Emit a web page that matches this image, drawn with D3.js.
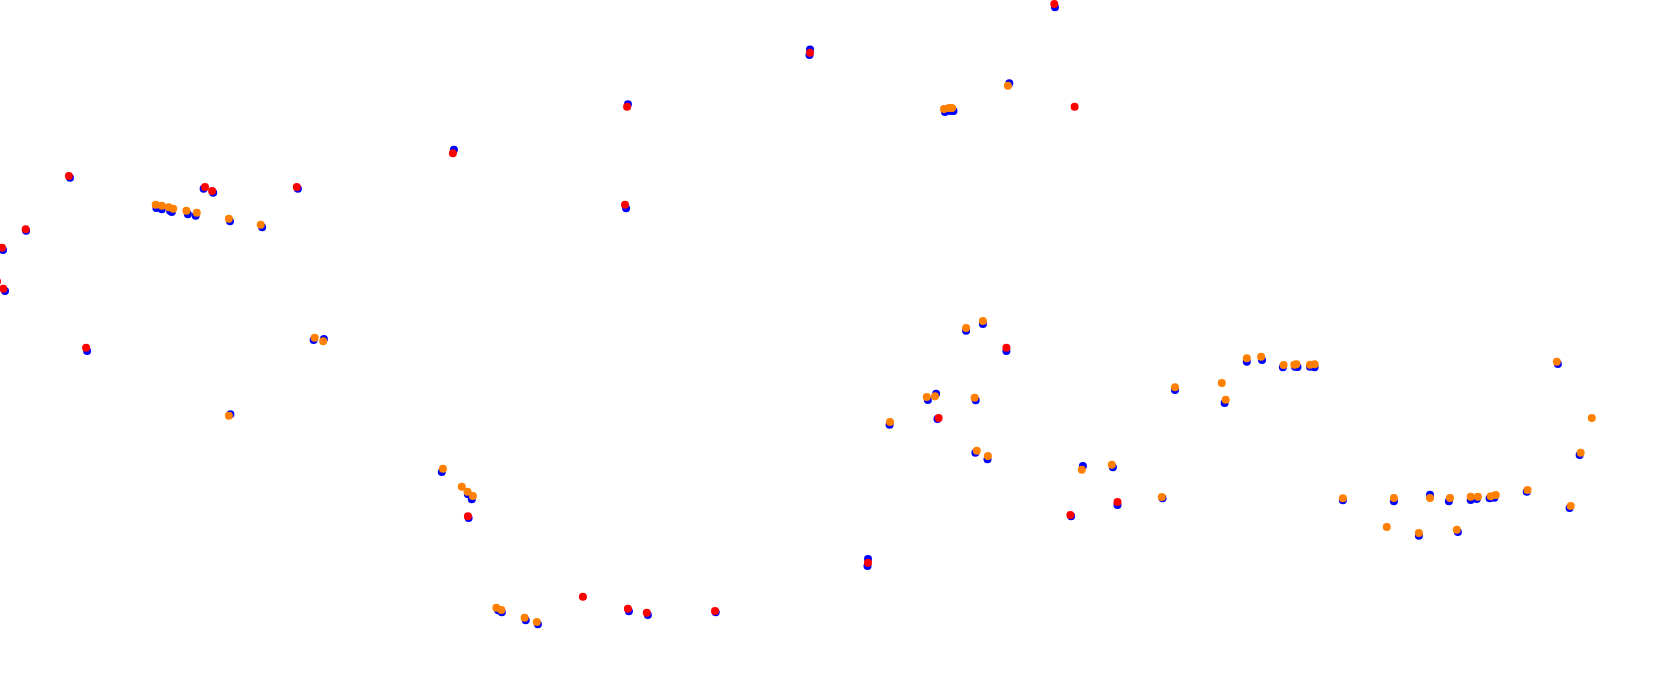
<!DOCTYPE html>
<html>
<head>
<meta charset="utf-8">
<script src="https://cdn.jsdelivr.net/npm/d3@7"></script>
<style>
  html, body { margin: 0; padding: 0; background: #ffffff; overflow: hidden; }
  svg { display: block; }
</style>
</head>
<body>
<div id="chart"></div>
<script>
// Series values (x, y in chart units)
const blueX = [70,26.1,3,5,203.6,213.2,297.9,453.9,87.1,156.4,161.8,170,171.8,187.9,195.7,230,262.1,313.6,323.9,1055,810,809.5,1009.3,945,950,953.5,627.9,626.1,966.1,982.9,1006.4,230.4,441.8,467.9,471.8,468.6,498.2,501.8,525.7,537.9,628.9,647.9,715.7,868,867.5,889.6,927.9,936.1,937.5,975.7,975.4,987.5,1082.9,1112.9,1071.1,1117.5,1162.5,1175,1224.6,1246.8,1262,1282.9,1295,1297.5,1310,1314.6,1557.9,1579.6,1569.6,1526.8,1494.3,1489.6,1476.8,1470.7,1448.9,1430,1393.9,1342.9,1418.9,1457.9];
const blueY = [177.7,230.7,250,291,188.7,192.7,188.7,149.7,351,208,209.3,210.7,212,214.3,215.7,221.3,227.3,340,339,7.3,49.5,55,83.3,112,111,111,104.3,208.3,330.7,324,351,414.3,472,494.3,499.3,518,610.3,612.3,620.3,624.3,611.3,615,612.3,559,566,424.7,400,393.7,419,400.3,452.7,459.3,466,467.3,516.3,505,498.3,390,403,361.7,360,367.3,366.7,367,366.7,367.3,364,455,508,491.7,497.7,498.3,499,500,501.3,494.7,501.3,500.3,535.7,532];

const redX = [68.9,25.7,2,3.3,-3,205,212.1,296.8,452.9,86.1,1054.3,810,1074.6,627.1,625,1006.4,467.9,582.9,627.9,646.8,715,868,938.6,1070.4,1117.5];
const redY = [176,229.3,247.7,288.7,281.5,187,191,187,153.3,347.7,4,52.7,106.7,106.7,204.7,347.7,516.3,596.7,608.7,612.7,611,562.7,418,515,502];

const orangeX = [155.7,161.8,168.6,173.2,186.4,196.8,228.9,260.7,314.6,323.2,1007.9,944,949,952,966.1,982.9,228.9,442.9,461.8,467.5,472.9,496.4,501.4,524.6,536.8,890,926.8,935,974.6,976.8,987.9,1081.8,1111.8,1161.8,1175,1221.8,1225.7,1246.8,1261.1,1283.6,1294.3,1296.4,1310,1314.6,1556.8,1591.8,1580.7,1570.7,1527.5,1495.7,1490.7,1477.9,1470.7,1450,1430,1393.9,1342.9,1386.8,1418.9,1456.8];
const orangeY = [204.7,205.7,207.3,208.7,210.7,212.7,218.7,224.7,337.7,341.3,85.7,109,108,108,328,321,415.7,468.7,486.7,491.7,496,607.7,610,617.7,622,422,397,396.3,397.7,450.7,456,469.7,464.7,497,387.3,383,399.7,358.3,356.7,365,364.7,364.3,364.7,364.3,361.7,418,452.7,506,490,495,496.3,496.7,496.7,498,498,498,498.3,527,533,529.7];

const W = 1680, H = 692;
const svg = d3.select("#chart").append("svg").attr("width", W).attr("height", H);
svg.append("rect").attr("width", W).attr("height", H).attr("fill", "#ffffff");

const x = d3.scaleLinear().domain([0, 1680]).range([0, W]);
const y = d3.scaleLinear().domain([0, 692]).range([0, H]);

const series = [
  { xs: blueX, ys: blueY, color: "#0000ff" },
  { xs: redX, ys: redY, color: "#ff0000" },
  { xs: orangeX, ys: orangeY, color: "#ff8000" }
];

series.forEach(s => {
  const pts = s.xs.map((v, i) => [v, s.ys[i]]);
  svg.append("g").selectAll("circle").data(pts).join("circle")
    .attr("cx", d => x(d[0]))
    .attr("cy", d => y(d[1]))
    .attr("r", 4)
    .attr("fill", s.color);
});
</script>
</body>
</html>
